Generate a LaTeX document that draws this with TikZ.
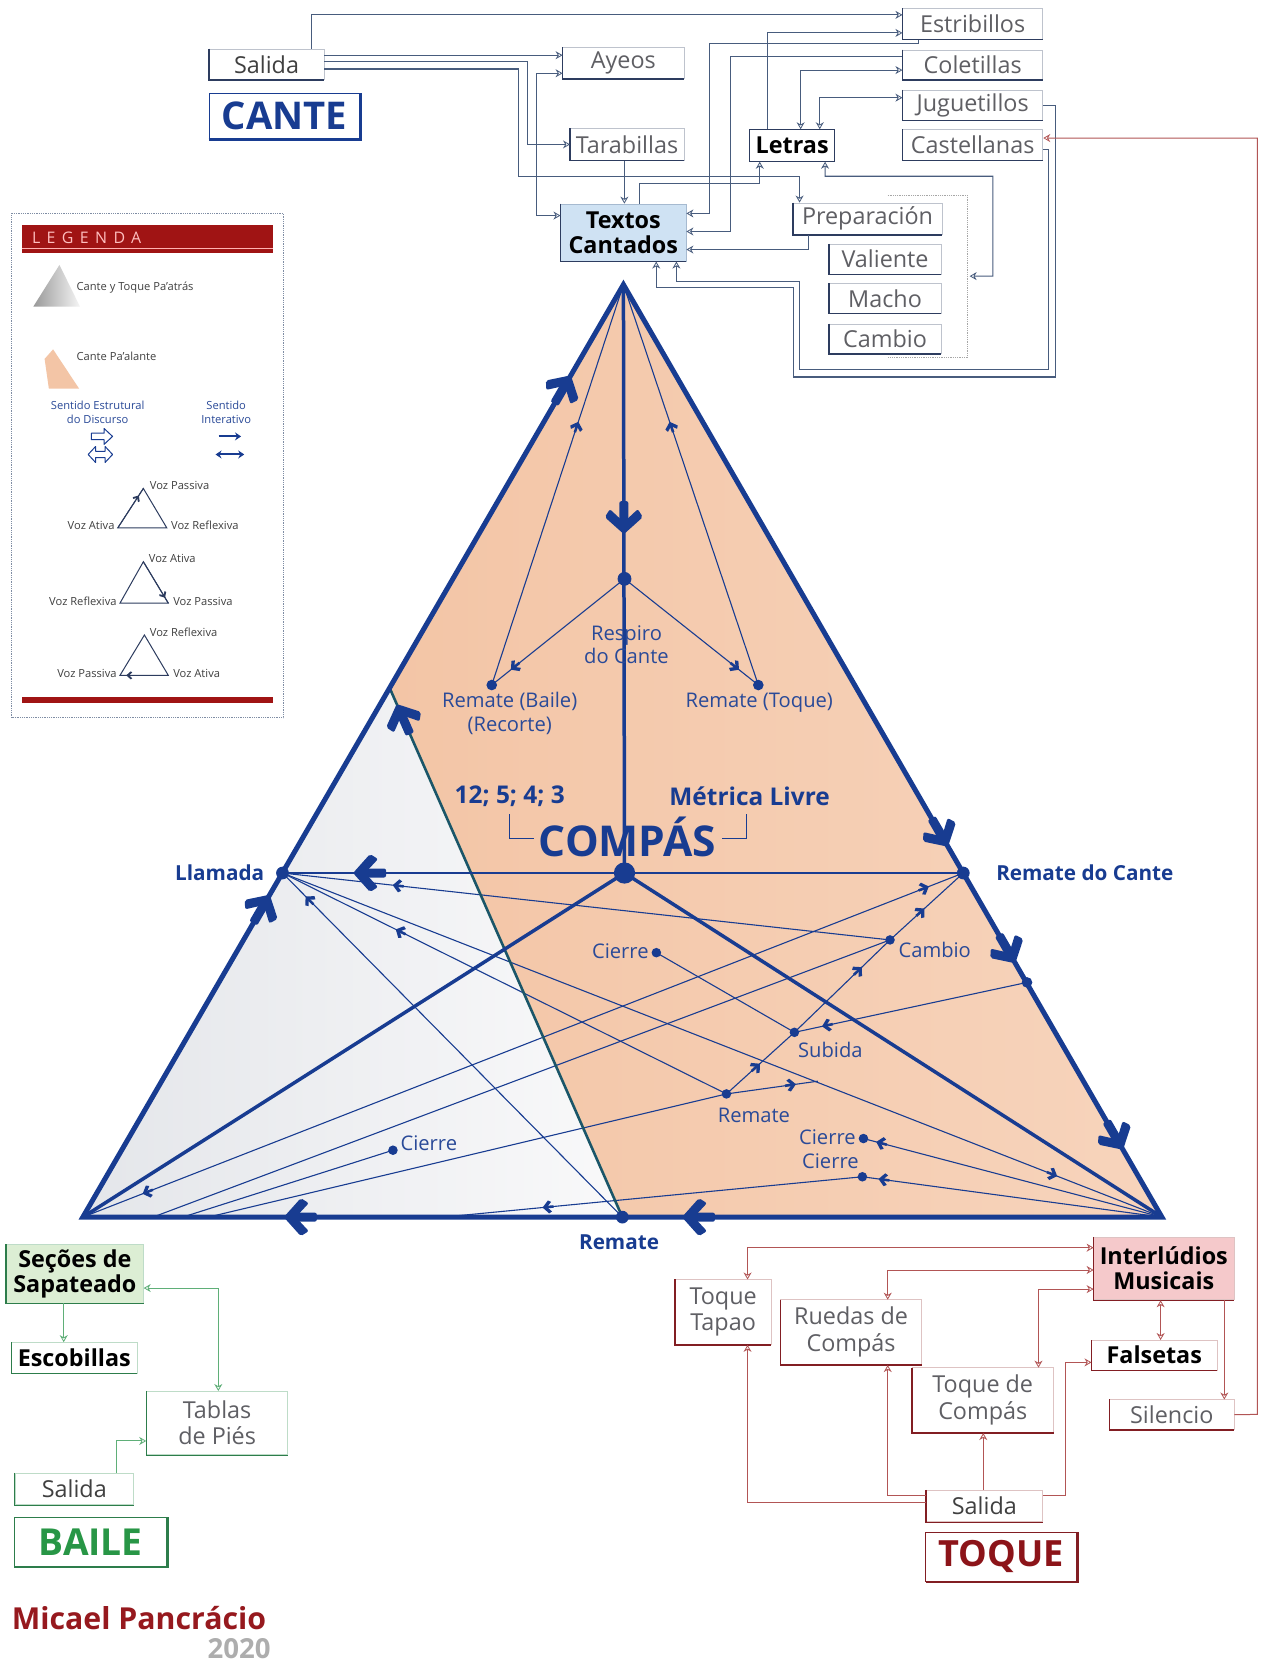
\documentclass[tikz,border=0pt]{standalone}
\usepackage{fontspec}
\setmainfont{Open Sans}
\usetikzlibrary{arrows.meta,decorations.markings}
\newcommand{\fsz}[2]{\fontsize{#1}{#2}\selectfont}
\definecolor{navy}{RGB}{24,60,145}
\definecolor{lblue}{RGB}{42,74,152}
\definecolor{tealc}{RGB}{28,90,100}
\definecolor{peachA}{RGB}{243,197,166}
\definecolor{peachB}{RGB}{247,212,188}
\definecolor{grayA}{RGB}{228,230,234}
\definecolor{grayB}{RGB}{249,249,250}
\definecolor{ctop}{RGB}{72,92,125}
\definecolor{ctopd}{RGB}{45,60,95}
\definecolor{boxlt}{RGB}{190,195,205}
\definecolor{txtgray}{RGB}{95,95,100}
\definecolor{tbl}{RGB}{207,226,243}
\definecolor{ctoq}{RGB}{178,85,85}
\definecolor{ctoqd}{RGB}{130,30,35}
\definecolor{toqlt}{RGB}{222,195,195}
\definecolor{pinkf}{RGB}{245,201,203}
\definecolor{toqred}{RGB}{140,20,25}
\definecolor{cbai}{RGB}{95,175,120}
\definecolor{cbaid}{RGB}{45,125,75}
\definecolor{bailt}{RGB}{190,220,200}
\definecolor{greenf}{RGB}{220,238,212}
\definecolor{bailg}{RGB}{40,150,70}
\definecolor{legred}{RGB}{160,20,20}
\definecolor{credred}{RGB}{150,25,30}
\begin{document}
\begin{tikzpicture}[x=1pt,y=-1pt,scale=1.0622,
 every node/.style={transform shape},
 >={Stealth[open,length=7pt,width=8pt,line width=0.8pt]},
 tb/.style={draw=boxlt, line width=0.6pt, inner sep=0pt, align=center, font=\fsz{22}{25}, text=txtgray},
 tbb/.style={tb, font=\bfseries\fsz{22}{24}, text=black},
 conT/.style={draw=ctop, line width=1.1pt},
 conR/.style={draw=ctoq, line width=1pt},
 conG/.style={draw=cbai, line width=1pt},
 tl/.style={draw=navy, line width=1.1pt},
 bigar/.style={postaction={decorate,decoration={markings,mark=at position #1 with {\fill[navy, rounded corners=2pt] (3pt,0pt) -- (-14pt,-19pt) -- (-22pt,-14pt) -- (-9pt,0pt) -- (-22pt,14pt) -- (-14pt,19pt) -- cycle; \fill[navy, rounded corners=2pt] (-30pt,-4.5pt) rectangle (-5pt,4.5pt);}}}},
 smar/.style={postaction={decorate,decoration={markings,mark=at position #1 with {\fill[navy] (1pt,0pt) -- (-5pt,-6.5pt) -- (-8pt,-4.8pt) -- (-3.5pt,0pt) -- (-8pt,4.8pt) -- (-5pt,6.5pt) -- cycle; \fill[navy] (-10pt,-1.3pt) rectangle (-2pt,1.3pt);}}}},
 smarr/.style={postaction={decorate,decoration={markings,mark=at position #1 with {\fill[navy] (-1pt,0pt) -- (5pt,-6.5pt) -- (8pt,-4.8pt) -- (3.5pt,0pt) -- (8pt,4.8pt) -- (5pt,6.5pt) -- cycle; \fill[navy] (10pt,-1.3pt) rectangle (2pt,1.3pt);}}}},
 lgar/.style={postaction={decorate,decoration={markings,mark=at position #1 with {\fill[ctopd] (1pt,0pt) -- (-3.5pt,-4pt) -- (-5pt,-3pt) -- (-2pt,0pt) -- (-5pt,3pt) -- (-3.5pt,4pt) -- cycle;}}}},
 ltri/.style={draw=ctopd, line width=1pt},
 lab/.style={font=\fsz{19}{22}, text=lblue, inner sep=1pt},
 labb/.style={font=\bfseries\fsz{19.5}{22}, text=navy, inner sep=1pt},
 leg/.style={font=\fsz{10.5}{12}, text=black!75, inner sep=1pt}
]
\useasboundingbox (0,0) rectangle (1189,1568);
\fill[white] (0,0) rectangle (1189,1568);

% ================= CANTE (top) =================
\node[tb, minimum width=108pt, minimum height=29pt, text=black!75] (salC) at (251,60.5) {Salida};
\node[draw=navy, line width=1pt, minimum width=142pt, minimum height=43pt, inner sep=0pt, font=\bfseries\fsz{36}{38}, text=navy] (cante) at (268,109.5) {CANTE};
\draw[navy, line width=2.6pt] (cante.south west) -- (cante.south east) -- (cante.north east);
\node[tb, minimum width=114pt, minimum height=29pt] (ayeos) at (587,59.5) {Ayeos};
\node[tb, minimum width=107pt, minimum height=30pt] (tarab) at (590.5,136) {Tarabillas};
\node[tbb, fill=tbl, draw=tbl!70!ctop, minimum width=118pt, minimum height=54pt] (textos) at (587,219) {Textos\\Cantados};
\node[tbb, draw=ctopd, minimum width=80pt, minimum height=30pt] (letras) at (746,137) {Letras};
\node[tb, minimum width=132pt, minimum height=29pt] (estrib) at (916,22.5) {Estribillos};
\node[tb, minimum width=132pt, minimum height=28pt] (colet) at (916,61) {Coletillas};
\node[tb, minimum width=132pt, minimum height=28pt] (juguet) at (916,99) {Juguetillos};
\node[tb, minimum width=132pt, minimum height=29pt] (castel) at (916,136.5) {Castellanas};
\node[tb, minimum width=140pt, minimum height=30pt] (prepar) at (817,206) {Preparación};
\node[tb, minimum width=105pt, minimum height=28pt] (valiente) at (833.5,244) {Valiente};
\node[tb, minimum width=105pt, minimum height=28pt] (macho) at (833.5,281) {Macho};
\node[tb, minimum width=105pt, minimum height=28pt] (cambioB) at (833.5,319) {Cambio};
\foreach \n in {salC,ayeos,tarab,textos,letras,estrib,colet,juguet,castel,prepar,valiente,macho,cambioB}
  \draw[ctopd, line width=1.4pt] (\n.north west) -- (\n.south west) -- (\n.south east);
\draw[densely dotted, gray!70, line width=0.8pt] (836,184) -- (911,184) -- (911,337) -- (836,337);
\coordinate (grp) at (913,260);

\draw[conT,->] (salC.north -| 293,0) -- (293,14) -- (estrib.west |- 0,14);
\draw[conT,->] (salC.east |- 0,52) -- (ayeos.west |- 0,52);
\draw[conT,->] (salC.east |- 0,58) -- (497,58) -- (497,136) -- (tarab.west |- 0,136);
\draw[conT,->] (salC.east |- 0,65) -- (488,65) -- (488,166) -- (753,166) -- (prepar.north -| 753,0);
\draw[conT,<->] (ayeos.west |- 0,69) -- (505,69) -- (505,203) -- (textos.west |- 0,203);
\draw[conT,->] (tarab.south -| 588,0) -- (textos.north -| 588,0);
\draw[conT,->] (textos.north -| 602,0) -- (602,173) -- (715.5,173) -- (letras.south -| 715.5,0);
\draw[conT,->] (letras.north -| 723,0) -- (723,31) -- (estrib.west |- 0,31);
\draw[conT,->] (estrib.south -| 865,0) -- (865,41) -- (668,41) -- (668,201) -- (textos.east |- 0,201);
\draw[conT,->] (colet.west |- 0,53) -- (688,53) -- (688,218) -- (textos.east |- 0,218);
\draw[conT,<->] (letras.north -| 754,0) -- (754,66) -- (colet.west |- 0,66);
\draw[conT,<->] (letras.north -| 772,0) -- (772,92) -- (juguet.west |- 0,92);
\draw[conT,->] (prepar.south -| 761,0) -- (761,235) -- (textos.east |- 0,235);
\draw[conT,<->] (letras.south -| 777,0) -- (777,166) -- (935,166) -- (935,260) -- (grp);
\draw[conT,->] (juguet.east |- 0,99) -- (994,99) -- (994,355) -- (747,355) -- (747,271) -- (618,271) -- (textos.south -| 618,0);
\draw[conT,->] (castel.east |- 0,141) -- (987,141) -- (987,348) -- (753,348) -- (753,265) -- (637,265) -- (textos.south -| 637,0);

% ================= LEGEND =================
\draw[densely dotted, ctop!70, line width=0.8pt] (11,201) rectangle (267,676);
\fill[legred] (20.4,212) rectangle (257,238.5);
\draw[red!30, line width=0.8pt] (20.4,234) -- (257,234);
\node[anchor=west, font=\fsz{15}{17}, text=red!25, inner sep=0pt] (legt) at (30,224) {\addfontfeature{LetterSpace=40}LEGENDA};
\fill[legred] (20.4,656) rectangle (257,662);
\shade[left color=gray!80, right color=gray!8] (56,249.5) -- (31.4,288.7) -- (75.3,288.7) -- cycle;
\node[leg, anchor=west] (l1) at (71,271) {Cante y Toque Pa'atrás};
\fill[peachA] (42,338) -- (50,329) -- (74.5,366) -- (46,366) -- cycle;
\node[leg, anchor=west] (l2) at (71,336) {Cante Pa'alante};
\node[font=\fsz{10.5}{13}, text=lblue, align=center] (l3) at (92,388) {Sentido Estrutural\\do Discurso};
\node[font=\fsz{10.5}{13}, text=lblue, align=center] (l4) at (213,388) {Sentido\\Interativo};
\draw[navy, line width=1pt, line join=round, fill=white] (86,408) -- (98,408) -- (98,403.5) -- (106,411) -- (98,418.5) -- (98,414) -- (86,414) -- cycle;
\draw[navy, line width=1pt, line join=round, fill=white] (83,428) -- (90,420.5) -- (90,425) -- (99,425) -- (99,420.5) -- (106,428) -- (99,435.5) -- (99,431) -- (90,431) -- (90,435.5) -- cycle;
\draw[-{Stealth[length=6pt,width=8pt]}, draw=navy, line width=2pt] (206,411) -- (227,411);
\draw[{Stealth[length=6pt,width=8pt]}-{Stealth[length=6pt,width=8pt]}, draw=navy, line width=2pt] (203,428) -- (230,428);
% triangle 1
\draw[ltri] (111,497) -- (157,497) -- (135,460) -- cycle;
\draw[ltri, lgar=0.8] (111,497) -- (135,460);
\node[leg, anchor=west] (t1a) at (140,457) {Voz Passiva};
\node[leg, anchor=east] (t1b) at (109,495) {Voz Ativa};
\node[leg, anchor=west] (t1c) at (160,495) {Voz Reflexiva};
% triangle 2
\draw[ltri] (113,568) -- (158.5,568) -- (135,529) -- cycle;
\draw[ltri, lgar=0.85] (135,529) -- (158.5,568);
\node[leg, anchor=west] (t2a) at (139,526) {Voz Ativa};
\node[leg, anchor=east] (t2b) at (111,566) {Voz Reflexiva};
\node[leg, anchor=west] (t2c) at (162,566) {Voz Passiva};
% triangle 3
\draw[ltri] (113,636) -- (158.5,636) -- (136,598) -- cycle;
\draw[ltri, lgar=0.85] (158.5,636) -- (113,636);
\node[leg, anchor=west] (t3a) at (140,595) {Voz Reflexiva};
\node[leg, anchor=east] (t3b) at (111,634) {Voz Passiva};
\node[leg, anchor=west] (t3c) at (162,634) {Voz Ativa};

% ================= MAIN TRIANGLE =================
\coordinate (A) at (587,268);
\coordinate (BL) at (78,1146);
\coordinate (BR) at (1094,1146);
\coordinate (C) at (588,822);
\coordinate (Ll) at (266,822);
\coordinate (RdC) at (907,822);
\coordinate (Rm) at (586,1146);
\coordinate (J) at (367,648);
\coordinate (Resp) at (588,545);
\coordinate (RB) at (463,645);
\coordinate (RT) at (714,645);
\coordinate (Ci1) at (618,897);
\coordinate (Cam) at (838,885);
\coordinate (Sub) at (748,972);
\coordinate (Rmd) at (684,1030);
\coordinate (Ci2) at (813,1072);
\coordinate (Ci3) at (812,1108);
\coordinate (Ci4) at (370,1083);
\coordinate (Red) at (967,925);
\coordinate (P2) at (144,1146);
\coordinate (P3) at (172,1146);
\coordinate (P4) at (196,1146);
\coordinate (P5) at (417,1146);
\coordinate (E) at (770,1018);

\shade[left color=grayA, right color=grayB] (BL) -- (J) -- (Rm) -- cycle;
\shade[left color=peachA, right color=peachB] (A) -- (J) -- (Rm) -- (BR) -- cycle;

% thin lines
\draw[tl, smar=0.85] (Resp) -- (RB);
\draw[tl, smar=0.85] (Resp) -- (RT);
\draw[tl, smar=0.655] (RB) -- (A);
\draw[tl, smar=0.655] (RT) -- (A);
\draw[tl, smar=0.817] (Cam) -- (Ll);
\draw[tl, smar=0.88] (Ll) -- (BR);
\draw[tl, smar=0.743] (Rmd) -- (Ll);
\draw[tl, smar=0.93] (Rm) -- (Ll);
\draw[tl, smar=0.48] (Rmd) -- (Sub);
\draw[tl, smar=0.7] (Sub) -- (Cam);
\draw[tl, smar=0.46] (Cam) -- (RdC);
\draw[tl, smar=0.96, smarr=0.069] (BL) -- (RdC);
\draw[tl] (P2) -- (Cam);
\draw[tl] (P3) -- (Ci4);
\draw[tl] (P4) -- (Rmd);
\draw[tl, smar=0.75] (Rmd) -- (E);
\draw[tl, smar=0.877] (Red) -- (Sub);
\draw[tl] (Ci1) -- (Sub);
\draw[tl, smar=0.954] (BR) -- (Ci2);
\draw[tl, smar=0.943] (BR) -- (Ci3);
\draw[tl, smar=0.76] (Ci3) -- (P5);

% thick lines
\draw[tealc, line width=2.6pt] (Rm) -- (J);
\draw[navy, line width=0.1pt, bigar=0.965] (Rm) -- (J);
\draw[navy, line width=2pt, bigar=0.892] (RdC) -- (Ll);
\draw[navy, line width=3.5pt] (C) -- (BL);
\draw[navy, line width=3.5pt] (C) -- (BR);
\draw[navy, line width=3.5pt, bigar=0.419] (A) -- (C);
\draw[navy, line width=5pt] (BL) -- (A) -- (BR) -- cycle;
\draw[navy, line width=0.1pt, bigar=0.343, bigar=0.90] (BL) -- (A);
\draw[navy, line width=0.1pt, bigar=0.60, bigar=0.725, bigar=0.925] (A) -- (BR);
\draw[navy, line width=0.1pt, bigar=0.442, bigar=0.811] (BR) -- (BL);

% dots
\fill[navy] (C) circle[radius=10];
\fill[navy] (Resp) circle[radius=6.5];
\foreach \p in {Ll,RdC,Rm} \fill[navy] (\p) circle[radius=6];
\foreach \p in {RB,RT,Red} \fill[navy] (\p) circle[radius=5];
\foreach \p in {Ci1,Cam,Sub,Rmd,Ci2,Ci3,Ci4} \fill[navy] (\p) circle[radius=4.5];

% labels
\node[lab, align=center] (respt) at (590,607) {Respiro\\do Cante};
\node[lab, align=center] (rbt) at (480,672) {Remate (Baile)\\(Recorte)};
\node[lab] (rtt) at (715,662) {Remate (Toque)};
\node[font=\bfseries\fsz{23}{25}, text=navy] (met1) at (480,750) {12; 5; 4; 3};
\node[font=\bfseries\fsz{23}{25}, text=navy] (met2) at (706,750) {Métrica Livre};
\node[font=\bfseries\fsz{40}{42}, text=navy] (comp) at (591,788) {COMPÁS};
\draw[navy, line width=0.9pt] (480,767) -- (480,790) -- (503,790);
\draw[navy, line width=0.9pt] (680,790) -- (703,790) -- (703,767);
\node[labb, anchor=east] (llt) at (250,822) {Llamada};
\node[labb, anchor=west] (rdct) at (937,822) {Remate do Cante};
\node[labb] (rmt) at (583,1170) {Remate};
\node[lab, anchor=east] (c1t) at (612,896) {Cierre};
\node[lab, anchor=west] (camt) at (845,895) {Cambio};
\node[lab] (subt) at (782,989) {Subida};
\node[lab] (rmdt) at (710,1050) {Remate};
\node[lab, anchor=east] (c2t) at (807,1071) {Cierre};
\node[lab] (c3t) at (782,1094) {Cierre};
\node[lab, anchor=west] (c4t) at (376,1077) {Cierre};

% ================= TOQUE =================
\tikzset{rb/.style={tb, draw=toqlt}}
\node[rb, fill=pinkf, font=\bfseries\fsz{22}{24}, text=black, minimum width=132pt, minimum height=59pt] (interl) at (1096,1194.5) {Interlúdios\\Musicais};
\node[rb, minimum width=90pt, minimum height=61pt] (tapao) at (681,1235.5) {Toque\\Tapao};
\node[rb, minimum width=133pt, minimum height=61pt] (ruedas) at (801.5,1254.5) {Ruedas de\\Compás};
\node[rb, minimum width=133pt, minimum height=61pt] (tcompas) at (925.5,1318.5) {Toque de\\Compás};
\node[rb, font=\bfseries\fsz{22}{24}, text=black, minimum width=118pt, minimum height=28pt] (falsetas) at (1087,1276) {Falsetas};
\node[rb, minimum width=117pt, minimum height=28pt] (silencio) at (1103.5,1332) {Silencio};
\node[rb, text=black!75, minimum width=110pt, minimum height=30pt] (salT) at (927,1418) {Salida};
\node[draw=ctoqd, line width=1pt, minimum width=142pt, minimum height=46pt, inner sep=0pt, font=\bfseries\fsz{34}{36}, text=toqred] (toque) at (943,1466) {TOQUE};
\draw[ctoqd, line width=2.6pt] (toque.south west) -- (toque.south east) -- (toque.north east);
\foreach \n in {interl,tapao,ruedas,tcompas,falsetas,silencio,salT}
  \draw[ctoqd, line width=1.4pt] (\n.north west) -- (\n.south west) -- (\n.south east);

\draw[conR,<->] (interl.west |- 0,1175) -- (704,1175) -- (tapao.north -| 704,0);
\draw[conR,<->] (interl.west |- 0,1196) -- (836,1196) -- (ruedas.north -| 836,0);
\draw[conR,<->] (interl.west |- 0,1214) -- (978,1214) -- (tcompas.north -| 978,0);
\draw[conR,<->] (interl.south -| 1093,0) -- (falsetas.north -| 1093,0);
\draw[conR,->] (interl.south -| 1153,0) -- (silencio.north -| 1153,0);
\draw[conR,->] (salT.west |- 0,1415) -- (704,1415) -- (tapao.south -| 704,0);
\draw[conR,->] (salT.west |- 0,1408) -- (836,1408) -- (ruedas.south -| 836,0);
\draw[conR,->] (salT.north -| 926,0) -- (tcompas.south -| 926,0);
\draw[conR,->] (salT.east |- 0,1408) -- (1003,1408) -- (1003,1283) -- (falsetas.west |- 0,1283);
\draw[conR,->] (silencio.east) -- (1184,1332) -- (1184,130) -- (castel.east |- 0,130);

% ================= BAILE =================
\tikzset{gb/.style={tb, draw=bailt}}
\node[gb, fill=greenf, font=\bfseries\fsz{22}{24}, text=black, minimum width=129pt, minimum height=55pt] (secoes) at (70.5,1199.5) {Seções de\\Sapateado};
\node[gb, font=\bfseries\fsz{22}{24}, text=black, minimum width=118pt, minimum height=29pt] (escob) at (70,1278.5) {Escobillas};
\node[gb, minimum width=133pt, minimum height=60pt] (tablas) at (204.5,1340) {Tablas\\de Piés};
\node[gb, text=black!75, minimum width=112pt, minimum height=30pt] (salB) at (70,1402) {Salida};
\node[draw=cbaid, line width=1pt, minimum width=143pt, minimum height=46pt, inner sep=0pt, font=\bfseries\fsz{35}{37}, text=bailg] (baile) at (85.5,1452) {BAILE};
\draw[cbaid, line width=2.6pt] (baile.south west) -- (baile.south east) -- (baile.north east);
\foreach \n in {secoes,escob,tablas,salB}
  \draw[cbaid, line width=1.4pt] (\n.north west) -- (\n.south west) -- (\n.south east);
\draw[conG,->] (secoes.south -| 60,0) -- (escob.north -| 60,0);
\draw[conG,<->] (secoes.east |- 0,1213) -- (205.6,1213) -- (tablas.north -| 205.6,0);
\draw[conG,->] (salB.north -| 110,0) -- (110,1357) -- (tablas.west |- 0,1357);

% credits
\node[anchor=west, font=\bfseries\fsz{28.5}{30}, text=credred, inner sep=0pt] (auth) at (11,1524) {Micael Pancrácio};
\node[anchor=east, font=\bfseries\fsz{26}{28}, text=black!32, inner sep=0pt] (yr) at (255,1553) {2020};
\end{tikzpicture}
\end{document}
